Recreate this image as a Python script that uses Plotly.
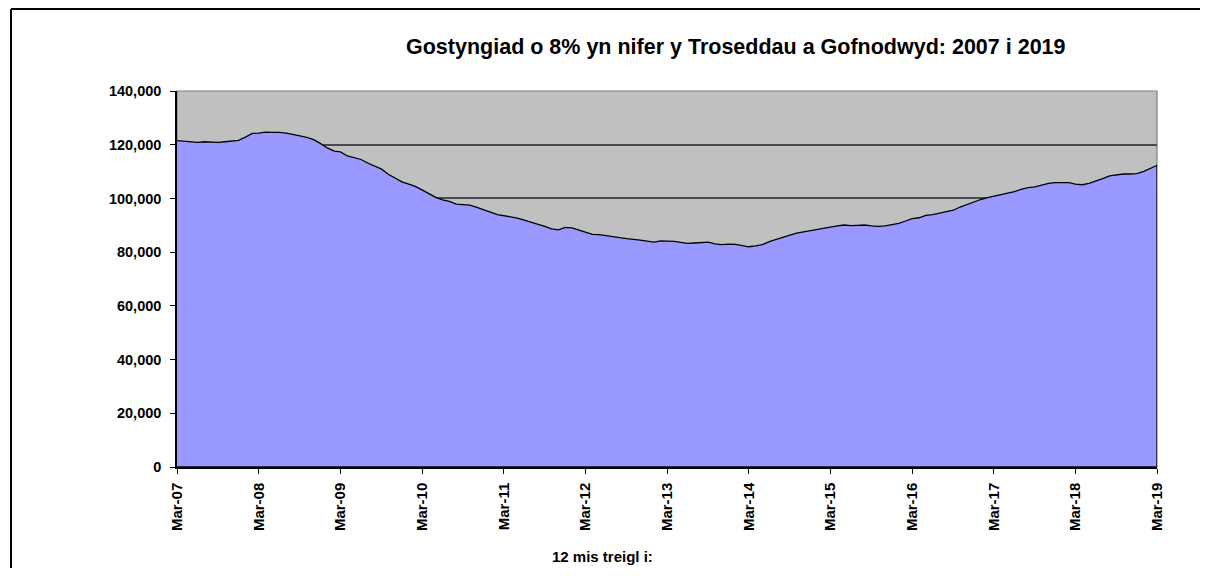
import pandas as pd
import plotly.graph_objects as go

# Monthly rolling 12-month totals, Mar-07 .. Mar-19
months = pd.date_range("2007-03-01", periods=145, freq="MS")
crimes = [
    121500, 121300, 121100, 120900, 121100, 121000, 120900, 121100, 121300, 121600,
    122800, 124200, 124300, 124700, 124600, 124600, 124300, 123900, 123300, 122700,
    121900, 120500, 118800, 117600, 117300, 115800, 115200, 114500, 113200, 112000,
    110900, 109000, 107600, 106200, 105300, 104400, 103200, 101900, 100400, 99500,
    98900, 97900, 97700, 97500, 96700, 95700, 94900, 94000, 93600, 93400,
    92700, 91900, 91200, 90500, 89600, 88700, 88300, 89200, 89000, 88200,
    87300, 86600, 86500, 86200, 85800, 85400, 85000, 84800, 84500, 84100,
    83700, 84200, 84200, 84000, 83600, 83300, 83400, 83500, 83700, 83100,
    82800, 83000, 82900, 82400, 82000, 82300, 82800, 83900, 84600, 85300,
    86300, 87100, 87600, 88000, 88400, 88900, 89500, 89800, 90100, 89900,
    90000, 90100, 89800, 89600, 89800, 90200, 90700, 91600, 92500, 92800,
    93700, 94000, 94500, 95000, 95600, 96800, 97800, 98700, 99600, 100300,
    100800, 101200, 101700, 102500, 103400, 104000, 104300, 105000, 105600, 105900,
    106000, 105900, 105300, 105100, 105600, 106400, 107400, 108400, 108800, 109100,
    109100, 109200, 110100, 111200, 112300,
]
tick_dates = pd.date_range("2007-03-01", periods=13, freq="12MS")
tick_labels = ["Mar-07", "Mar-08", "Mar-09", "Mar-10", "Mar-11", "Mar-12", "Mar-13",
               "Mar-14", "Mar-15", "Mar-16", "Mar-17", "Mar-18", "Mar-19"]
y_ticks = [0, 20000, 40000, 60000, 80000, 100000, 120000, 140000]

title_text = "Gostyngiad o 8% yn nifer y Troseddau a Gofnodwyd: 2007 i 2019"
xaxis_title = "12 mis treigl i:"

FONT = "Liberation Sans, Arial, sans-serif"

xs = list(months) + [months[-1], months[0]]
ys = crimes + [0, 0]

fig = go.Figure()
fig.add_trace(go.Scatter(
    x=xs, y=ys, mode="lines", fill="toself",
    fillcolor="#9999FF", line=dict(color="black", width=1.3),
    hoverinfo="skip", showlegend=False,
))

W, H = 1192, 560
OFF = 8  # page body margin
L, R, T, B = 169, 43, 83, 101
pw = W - L - R
ph = H - T - B


def px_x(p):
    return (p - OFF - L) / pw


def px_y(p):
    return (H - B - (p - OFF)) / ph


fig.update_layout(
    width=W, height=H,
    margin=dict(l=L, r=R, t=T, b=B, pad=0),
    paper_bgcolor="white", plot_bgcolor="#C0C0C0",
    showlegend=False,
    font=dict(family=FONT, size=14, color="black", weight="bold"),
    xaxis=dict(
        type="date", range=[months[0], months[-1]],
        tickvals=list(tick_dates), ticktext=tick_labels, tickangle=-90,
        ticks="outside", ticklen=5, tickcolor="black", tickwidth=1,
        showgrid=False, zeroline=False,
        showline=True, linecolor="black", linewidth=1.5,
        tickfont=dict(family=FONT, size=15, color="black", weight="bold"),
        ticklabelstandoff=3,
    ),
    yaxis=dict(
        range=[0, 140000], tickvals=y_ticks, tickformat=",d",
        ticks="outside", ticklen=5, tickcolor="black", tickwidth=1,
        showgrid=True, gridcolor="#4a4a4a", gridwidth=1.5,
        zeroline=False,
        showline=True, linecolor="black", linewidth=1.5,
        tickfont=dict(family=FONT, size=14.5, color="black", weight="bold"),
        ticklabelstandoff=6,
    ),
    shapes=[
        dict(type="rect", xref="paper", yref="paper", x0=0, x1=1, y0=0, y1=1,
             line=dict(color="#808080", width=1.2), layer="below"),
        dict(type="line", xref="paper", yref="paper",
             x0=px_x(11), x1=px_x(1230), y0=px_y(9), y1=px_y(9),
             line=dict(color="black", width=2), layer="above"),
        dict(type="line", xref="paper", yref="paper",
             x0=px_x(11), x1=px_x(11), y0=px_y(9), y1=px_y(620),
             line=dict(color="black", width=2), layer="above"),
    ],
    annotations=[
        dict(text=title_text, xref="paper", yref="paper",
             x=px_x(736), y=px_y(47),
             xanchor="center", yanchor="middle", showarrow=False,
             font=dict(family=FONT, size=21.5, color="black", weight="bold")),
        dict(text=xaxis_title, xref="paper", yref="paper",
             x=px_x(602), y=px_y(556),
             xanchor="center", yanchor="middle", showarrow=False,
             font=dict(family=FONT, size=15, color="black", weight="bold")),
    ],
)

fig.write_html("out.html")
